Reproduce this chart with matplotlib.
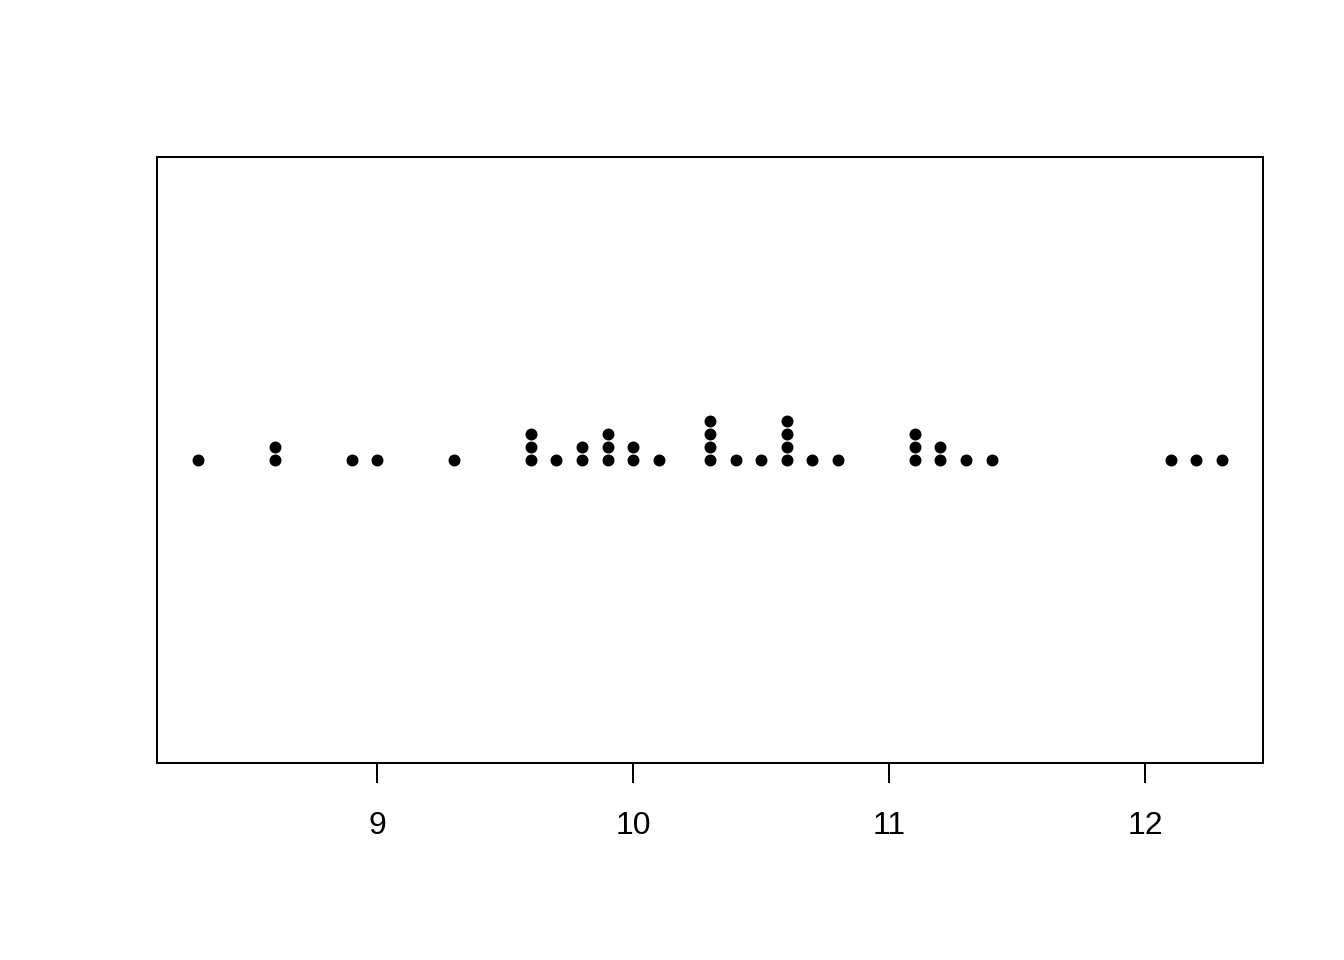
import matplotlib
import numpy as np

matplotlib.use("Agg")
import matplotlib.pyplot as plt  # noqa: E402

# observed values (repeats are stacked)
values = [8.3, 8.6, 8.6, 8.9, 9.0, 9.3,
          9.6, 9.6, 9.6, 9.7, 9.8, 9.8, 9.9, 9.9, 9.9, 10.0, 10.0, 10.1,
          10.3, 10.3, 10.3, 10.3, 10.4, 10.5, 10.6, 10.6, 10.6, 10.6,
          10.7, 10.8, 11.1, 11.1, 11.1, 11.2, 11.2, 11.3, 11.4,
          12.1, 12.2, 12.3]
xticks = [9, 10, 11, 12]

plt.rcParams["font.family"] = ["Liberation Sans", "DejaVu Sans"]

fig = plt.figure(figsize=(13.44, 9.6), dpi=100)
ax = fig.add_axes([157 / 1344, 197 / 960, 1106 / 1344, 606 / 960])

# stack repeated values like R's stripchart(method="stack")
step = 13 / 606 * 2
xs, ys = [], []
seen = {}
for v in values:
    k = seen.get(v, 0)
    seen[v] = k + 1
    xs.append(v)
    ys.append(1 + k * step)

ax.plot(xs, ys, "o", color="black", markersize=8.6, markeredgewidth=0)

lo, hi = min(values), max(values)
pad = (hi - lo) * 0.04
ax.set_xlim(lo - pad, hi + pad)
ax.set_ylim(0, 2)

ax.set_yticks([])
ax.set_xticks(xticks)
ax.set_xticklabels([str(t) for t in xticks])
ax.tick_params(axis="x", length=14.5, width=1.44, pad=20, labelsize=23)
for s in ax.spines.values():
    s.set_linewidth(1.44)

fig.savefig("out.png", dpi=100)
